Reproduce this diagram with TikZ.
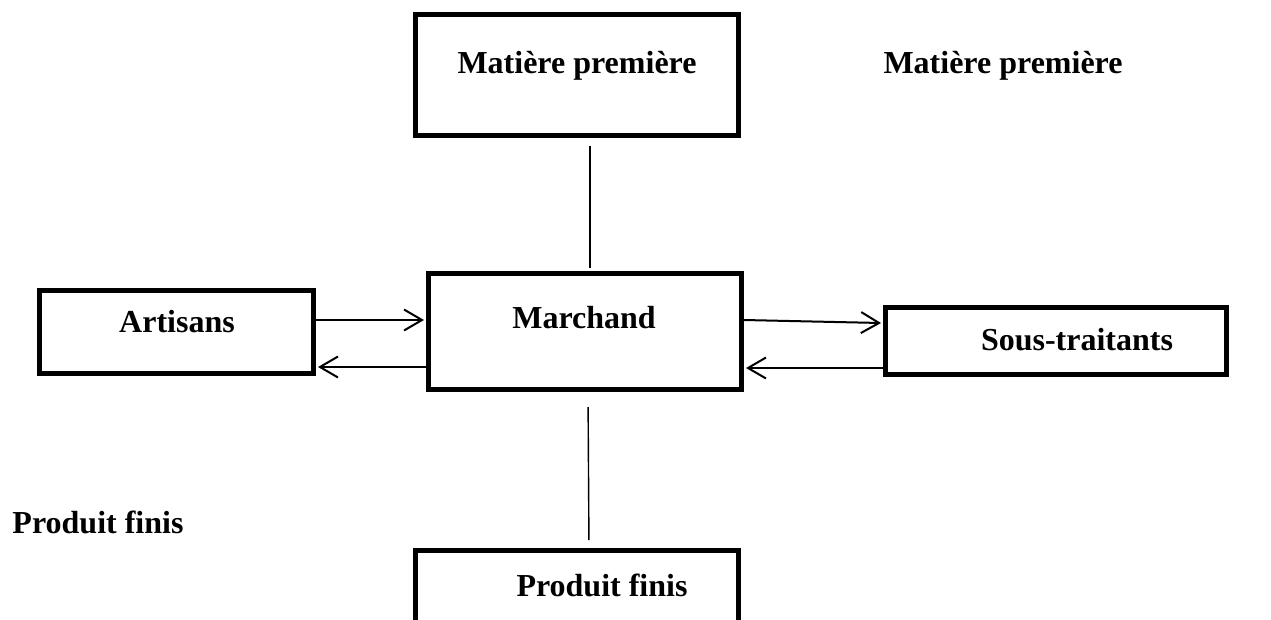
\documentclass[tikz,border=0pt]{standalone}
\usepackage{fontspec}
\setmainfont{Liberation Serif}
\usetikzlibrary{arrows.meta,calc}
\begin{document}
\begin{tikzpicture}[x=1pt,y=-1pt,
  box/.style={draw=black,line width=5pt,rectangle,inner sep=0pt,minimum width=#1},
  lbl/.style={font=\fontsize{32}{38}\selectfont\bfseries,inner sep=0pt,anchor=center},
  conn/.style={draw=black,line width=1.4pt},
  arr/.style={draw=black,line width=2pt,-{Straight Barb[length=18pt,width=21pt,line width=2pt]}}]
\useasboundingbox[fill=white] (0,0) rectangle (1271,619);
% boxes
\node[box=323pt,minimum height=121pt] (mp) at (576.5,74.5) {};
\node[box=313pt,minimum height=116pt] (m) at (585,331.5) {};
\node[box=274pt,minimum height=83pt] (art) at (176.5,332) {};
\node[box=341pt,minimum height=67pt] (st) at (1056,341) {};
\coordinate (pftl) at (415.5,550);
\coordinate (pftr) at (738,550);
\coordinate (pfbl) at (415.5,625);
\coordinate (pfbr) at (738,625);
\draw[line width=5pt] (pfbl) -- (pftl) -- (pftr) -- (pfbr);
\coordinate (pftop) at (589,550);
% texts
\node[lbl] (tmp) at (577,66) {Matière première};
\node[lbl] (tm) at (584,318) {Marchand};
\node[lbl] (tart) at (177,322) {Artisans};
\node[lbl] (tst) at (1077,340) {Sous-traitants};
\node[lbl] (tpf) at (602,585) {Produit finis};
\node[lbl] (mp2) at (1003,66) {Matière première};
\node[lbl] (pf2) at (98,522) {Produit finis};
% connectors
\draw[conn,shorten <=8pt,shorten >=3pt] (mp.south -| 590,0) -- (m.north -| 590,0);
\draw[conn,shorten <=15pt,shorten >=10pt] (m.south -| 588,0) -- (pftop);
\draw[arr] (art.east |- 0,320) -- ($(m.west |- 0,320)+(-2,0)$);
\draw[arr] (m.west |- 0,367) -- ($(art.east |- 0,367)+(2,0)$);
\draw[arr] (m.east |- 0,320) -- ($(st.west |- 0,323)+(-2,0)$);
\draw[arr] (st.west |- 0,368) -- ($(m.east |- 0,368)+(2,0)$);
\end{tikzpicture}
\end{document}
